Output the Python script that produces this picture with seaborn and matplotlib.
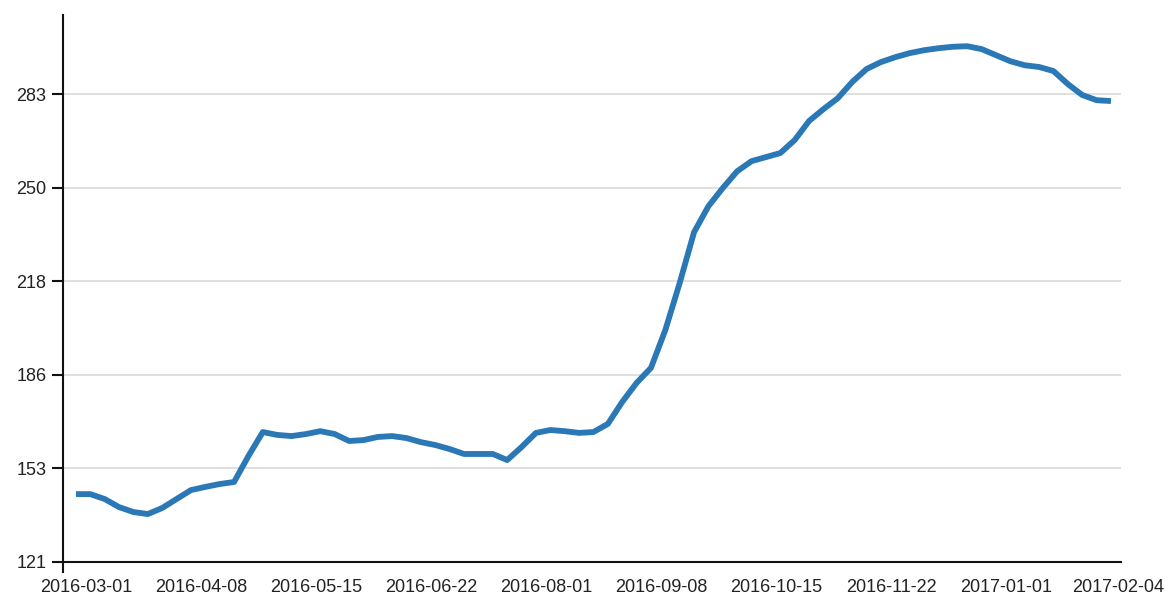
#!/usr/bin/env python3
"""
Smoothed daily series, Mar 2016 - Feb 2017, drawn as a single line.
Usage: python3 plot.py  ->  out.png
"""

import matplotlib

matplotlib.use("Agg")

import matplotlib.pyplot as plt
import matplotlib.transforms as mtransforms
import numpy as np
import seaborn as sns

# Tick labels along the x axis (evenly spaced, one every 8 samples)
tick_labels = [
    "2016-03-01", "2016-04-08", "2016-05-15", "2016-06-22", "2016-08-01",
    "2016-09-08", "2016-10-15", "2016-11-22", "2017-01-01", "2017-02-04",
]

# Values, one sample every 1/8 of a tick interval
values = [
    144.5, 144.5, 142.8, 140.0, 138.3, 137.6, 139.7, 142.8,
    145.9, 147.0, 148.0, 148.7, 157.7, 166.0, 165.0, 164.6,
    165.3, 166.3, 165.3, 162.9, 163.2, 164.3, 164.6, 163.9,
    162.5, 161.5, 160.1, 158.4, 158.4, 158.4, 156.3, 160.8,
    165.7, 166.7, 166.3, 165.7, 166.0, 168.8, 176.4, 183.0,
    188.2, 201.3, 217.6, 235.2, 244.2, 250.5, 256.3, 259.8,
    261.2, 262.6, 267.1, 273.7, 277.8, 281.6, 287.2, 291.7,
    294.1, 295.8, 297.2, 298.2, 298.9, 299.4, 299.6, 298.6,
    296.5, 294.4, 293.0, 292.4, 291.0, 286.5, 282.7, 280.9,
    280.6,
]

# y axis ticks and their labels
y_ticks = [121, 153.4, 185.8, 218.2, 250.6, 283]
y_labels = ["121", "153", "186", "218", "250", "283"]


def main():
    sns.set_theme(style="white")
    plt.rcParams["font.family"] = ["Liberation Sans", "DejaVu Sans"]

    samples_per_tick = 8
    first_tick = 0.7  # first labelled date falls a little after the first sample
    x = np.arange(len(values))
    tick_pos = first_tick + samples_per_tick * np.arange(len(tick_labels))
    x_left = -0.9

    fig = plt.figure(figsize=(11.65, 5.96), dpi=100)
    ax = fig.add_axes([63 / 1165, 34 / 596, (1121 - 63) / 1165, (562 - 15) / 596])

    sns.lineplot(x=x, y=values, ax=ax, color="#2a78b5", linewidth=4.2,
                 solid_capstyle="butt", solid_joinstyle="round", zorder=3)

    ax.set_xlim(x_left, tick_pos[-1])
    ax.set_ylim(121, 310.4)

    ax.set_xticks(tick_pos)
    ax.set_xticklabels(tick_labels)
    ax.set_xticks([x_left], minor=True)
    ax.set_yticks(y_ticks)
    ax.set_yticklabels(y_labels)

    ax.yaxis.grid(True, color="#d9d9d9", linewidth=1.2, zorder=0)
    ax.xaxis.grid(False)
    ax.set_axisbelow(True)

    for side in ["top", "right"]:
        ax.spines[side].set_visible(False)
    for side in ["left", "bottom"]:
        ax.spines[side].set_color("#111111")
        ax.spines[side].set_linewidth(1.5)

    ax.tick_params(axis="both", which="both", direction="out", length=8,
                   width=1.5, color="#111111", labelsize=13,
                   labelcolor="#222222", pad=4)
    ax.tick_params(axis="x", which="minor", bottom=True)
    ax.tick_params(axis="y", left=True)
    ax.set_xlabel("")
    ax.set_ylabel("")

    # keep the last date inside the canvas, as in the reference
    last = ax.get_xticklabels()[-1]
    last.set_transform(last.get_transform()
                       + mtransforms.ScaledTranslation(-3 / 100, 0, fig.dpi_scale_trans))

    fig.savefig("out.png", dpi=100)


if __name__ == "__main__":
    main()
